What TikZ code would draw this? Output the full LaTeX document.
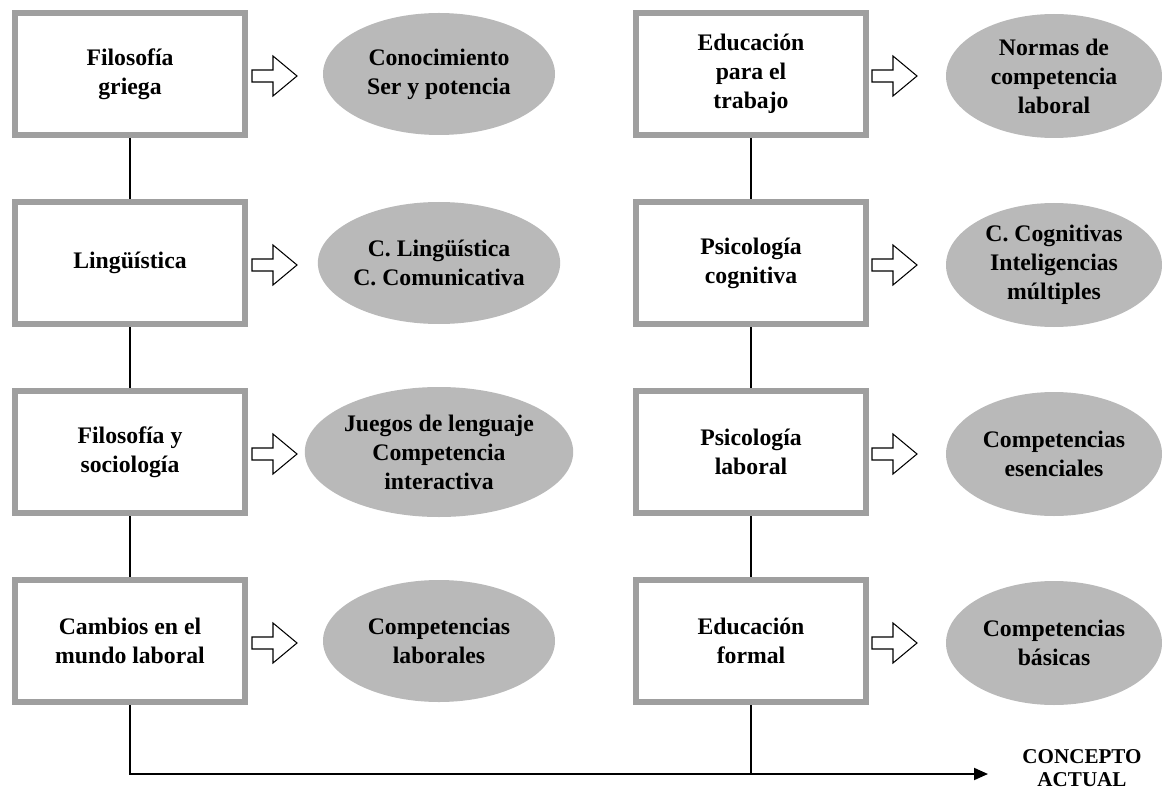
\documentclass[tikz,border=0pt]{standalone}
\usepackage{fontspec}
\setmainfont{Liberation Serif}
\usetikzlibrary{shapes.geometric,arrows.meta,calc}

\tikzset{
    caja/.style={draw=gray!75, line width=0.12cm, fill=white, minimum width=4.6cm,
        minimum height=2.44cm, align=center, font=\bfseries\fontsize{13.5}{16.5}\selectfont},
    ovalo/.style={ellipse, fill=gray!55, minimum width=4.64cm, minimum height=2.44cm,
        inner sep=0pt, align=center, font=\bfseries\fontsize{13.5}{16.5}\selectfont},
    linea/.style={line width=1.1pt},
    flecha/.pic={
        \draw[line width=0.6pt] (0,0.12) -- (0.42,0.12) -- (0.42,0.4) -- (0.9,0)
            -- (0.42,-0.4) -- (0.42,-0.12) -- (0,-0.12) -- cycle;
    }
}

\begin{document}
\begin{tikzpicture}
    \useasboundingbox (0,0) rectangle (23.24,-15.94);

    \node [caja] (grie) at (2.6, -1.48) {Filosofía\\griega};
    \node [caja] (ling) at (2.6, -5.26) {Lingüística};
    \node [caja] (soci) at (2.6, -9.04) {Filosofía y\\sociología};
    \node [caja] (camb) at (2.6, -12.82) {Cambios en el\\mundo laboral};

    \node [caja] (trab) at (15.02, -1.48) {Educación\\para el\\trabajo};
    \node [caja] (cogn) at (15.02, -5.26) {Psicología\\cognitiva};
    \node [caja] (labo) at (15.02, -9.04) {Psicología\\laboral};
    \node [caja] (form) at (15.02, -12.82) {Educación\\formal};

    \node [ovalo] (cono) at (8.78, -1.48) {Conocimiento\\Ser y potencia};
    \node [ovalo] (comu) at (8.78, -5.26) {C. Lingüística\\C. Comunicativa};
    \node [ovalo, minimum width=4.88cm, minimum height=2.6cm] (jueg) at (8.78, -9.04)
        {Juegos de lenguaje\\Competencia\\interactiva};
    \node [ovalo] (clab) at (8.78, -12.82) {Competencias\\laborales};

    \node [ovalo, minimum width=4.32cm, minimum height=2.48cm] (norm) at (21.08, -1.52)
        {Normas de\\competencia\\laboral};
    \node [ovalo, minimum width=4.32cm, minimum height=2.48cm] (inte) at (21.08, -5.3)
        {C. Cognitivas\\Inteligencias\\múltiples};
    \node [ovalo, minimum width=4.32cm, minimum height=2.48cm] (esen) at (21.08, -9.08)
        {Competencias\\esenciales};
    \node [ovalo, minimum width=4.32cm, minimum height=2.48cm] (basi) at (21.08, -12.86)
        {Competencias\\básicas};

    \pic at ($(grie.east)+(0.08,-0.04)$) {flecha};
    \pic at ($(ling.east)+(0.08,-0.04)$) {flecha};
    \pic at ($(soci.east)+(0.08,-0.04)$) {flecha};
    \pic at ($(camb.east)+(0.08,-0.04)$) {flecha};
    \pic at ($(trab.east)+(0.06,-0.04)$) {flecha};
    \pic at ($(cogn.east)+(0.06,-0.04)$) {flecha};
    \pic at ($(labo.east)+(0.06,-0.04)$) {flecha};
    \pic at ($(form.east)+(0.06,-0.04)$) {flecha};

    \draw [linea] (grie) -- (ling);
    \draw [linea] (ling) -- (soci);
    \draw [linea] (soci) -- (camb);
    \draw [linea] (trab) -- (cogn);
    \draw [linea] (cogn) -- (labo);
    \draw [linea] (labo) -- (form);

    \coordinate (fin) at (19.76, -15.48);
    \node [align=center, font=\bfseries\fontsize{12}{13}\selectfont] (conc) at (21.64, -15.36)
        {CONCEPTO\\ACTUAL};
    \draw [linea, -{Triangle[length=0.28cm, width=0.24cm]}] (camb.south) |- (fin);
    \draw [linea] (form.south) -- (form.south |- fin);
\end{tikzpicture}
\end{document}
